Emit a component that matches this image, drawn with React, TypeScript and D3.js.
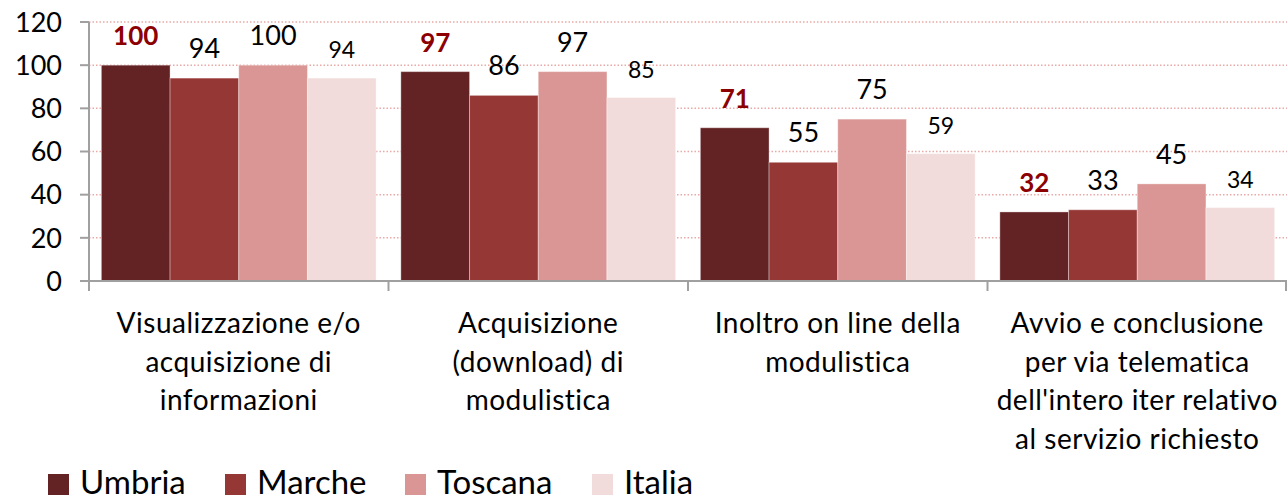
import React from "react";
import * as d3 from "d3";

const categories: string[][] = [
  ["Visualizzazione e/o", "acquisizione di", "informazioni"],
  ["Acquisizione", "(download) di", "modulistica"],
  ["Inoltro on line della", "modulistica"],
  ["Avvio e conclusione", "per via telematica", "dell'intero iter relativo", "al servizio richiesto"],
];
const series = ["Umbria", "Marche", "Toscana", "Italia"];
const umbria = [100, 97, 71, 32];
const marche = [94, 86, 55, 33];
const toscana = [100, 97, 75, 45];
const italia = [94, 85, 59, 34];
const yTicks = [0, 20, 40, 60, 80, 100, 120];

const values = [umbria, marche, toscana, italia];
const colors = ["#632325", "#953735", "#D99694", "#F2DCDB"];
const labelStyle = [
  { size: 26, weight: 700, fill: "#8C0000" },
  { size: 27, weight: 400, fill: "#000" },
  { size: 27, weight: 400, fill: "#000" },
  { size: 23, weight: 400, fill: "#000" },
];
const legendX = [48, 225, 405, 592];

const W = 1287;
const H = 496;
const FONT = "Lato, 'Open Sans', sans-serif";

export default function App() {
  const left = 89;
  const right = 1287;
  const top = 22;
  const bottom = 281;
  const catKeys = categories.map((_, i) => String(i));
  const x = d3.scaleBand<string>().domain(catKeys).range([left, right]).paddingInner(0).paddingOuter(0);
  const xi = d3.scaleBand<string>().domain(series).range([0, x.bandwidth()]).paddingInner(0).paddingOuter(0.18);
  const y = d3.scaleLinear().domain([0, 120]).range([bottom, top]);

  return (
    <svg width={W} height={H} style={{ position: "absolute", left: 0, top: 0, background: "#fff" }} fontFamily={FONT}>
      {/* gridlines */}
      {yTicks.filter((t) => t > 0).map((t) => (
        <line key={"g" + t} x1={left} x2={right} y1={y(t)} y2={y(t)} stroke="#E9A9A7" strokeWidth={1.5} strokeDasharray="1.5 2" />
      ))}
      {/* bars */}
      {catKeys.map((c, ci) => (
        <g key={"c" + c} transform={`translate(${x(c)},0)`}>
          {series.map((s, si) => (
            <rect
              key={s}
              x={xi(s)}
              y={y(values[si][ci])}
              width={xi.bandwidth()}
              height={y(0) - y(values[si][ci])}
              fill={colors[si]}
              stroke="#ffffff"
              strokeOpacity={0.35}
              strokeWidth={1}
            />
          ))}
          {series.map((s, si) => (
            <text
              key={"l" + s}
              x={(xi(s) as number) + xi.bandwidth() / 2}
              y={y(values[si][ci]) - 20}
              textAnchor="middle"
              fontSize={labelStyle[si].size}
              fontWeight={labelStyle[si].weight}
              fill={labelStyle[si].fill}
            >
              {values[si][ci]}
            </text>
          ))}
        </g>
      ))}
      {/* y axis */}
      <line x1={left} x2={left} y1={top} y2={bottom} stroke="#A0A0A0" strokeWidth={2} />
      {yTicks.map((t) => (
        <g key={"t" + t}>
          <line x1={left - 9} x2={left} y1={y(t)} y2={y(t)} stroke="#A0A0A0" strokeWidth={2} />
          <text x={left - 27} y={y(t)} dy="0.36em" textAnchor="end" fontSize={27} fill="#000">
            {t}
          </text>
        </g>
      ))}
      {/* x axis */}
      <line x1={left} x2={right} y1={bottom} y2={bottom} stroke="#A0A0A0" strokeWidth={2} />
      {[...catKeys.map((c) => x(c) as number), right - 1].map((px, i) => (
        <line key={"xt" + i} x1={px} x2={px} y1={bottom} y2={bottom + 10} stroke="#A0A0A0" strokeWidth={2} />
      ))}
      {categories.map((lines, ci) => (
        <text key={"cl" + ci} textAnchor="middle" fontSize={28} letterSpacing={0.5} fill="#000">
          {lines.map((ln, li) => (
            <tspan key={li} x={(x(String(ci)) as number) + x.bandwidth() / 2} y={333 + li * 38.5}>
              {ln}
            </tspan>
          ))}
        </text>
      ))}
      {/* legend */}
      {series.map((s, si) => (
        <g key={"lg" + s}>
          <rect x={legendX[si]} y={474} width={21} height={21} fill={colors[si]} />
          <text x={legendX[si] + 32} y={494} fontSize={33} fill="#000">
            {s}
          </text>
        </g>
      ))}
    </svg>
  );
}
